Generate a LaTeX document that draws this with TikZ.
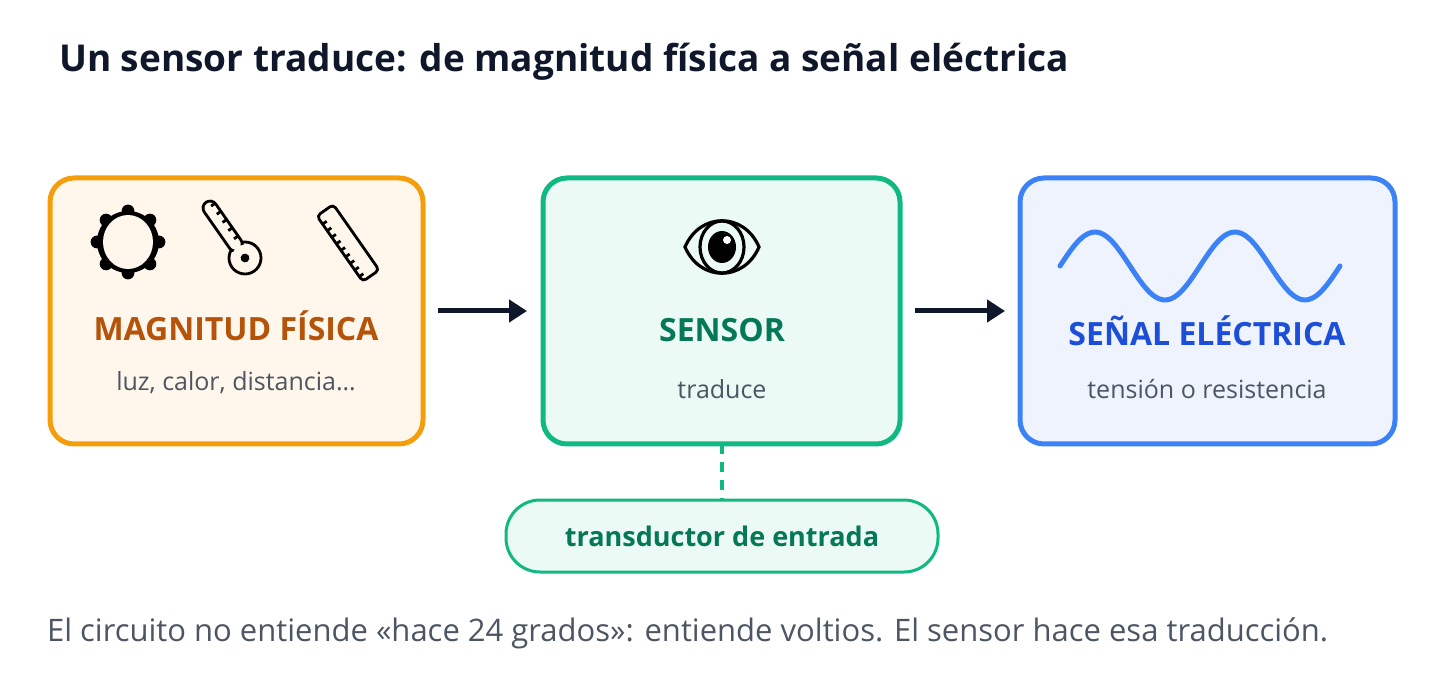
\documentclass[tikz,border=0pt]{standalone}
\usepackage{fontspec}
\setmainfont{Open Sans}
\usetikzlibrary{arrows.meta}
\definecolor{ostroke}{HTML}{F59E0B}\definecolor{ofill}{HTML}{FFF7EB}\definecolor{otext}{HTML}{B45309}
\definecolor{gstroke}{HTML}{10B981}\definecolor{gfill}{HTML}{EBFAF4}\definecolor{gtext}{HTML}{047857}
\definecolor{bstroke}{HTML}{3B82F6}\definecolor{bfill}{HTML}{EEF3FE}\definecolor{btext}{HTML}{1D4ED8}
\definecolor{gray}{HTML}{4B5563}\definecolor{dark}{HTML}{0F172A}
\begin{document}
\begin{tikzpicture}[x=0.5pt,y=-0.5pt,
  box/.style={draw=#1stroke,fill=#1fill,line width=2.5pt,rounded corners=12pt},
  big/.style={font=\fontsize{16}{20}\selectfont\bfseries},
  sub/.style={font=\fontsize{12.5}{16}\selectfont,text=gray},
  arr/.style={-{Triangle[length=9pt,width=11pt]},line width=2.5pt,draw=dark},
  ic/.style={line width=1.4pt,draw=black}]
\useasboundingbox (0,0) rectangle (1444,694);
\node[anchor=west,font=\fontsize{18.5}{23}\selectfont\bfseries,text=dark] (title) at (52,62) {Un sensor traduce: de magnitud física a señal eléctrica};
\draw[box=o] (50,178) rectangle (423,444);
\draw[box=g] (543,178) rectangle (900,444);
\draw[box=b] (1020,178) rectangle (1395,444);
\path (50,311) coordinate (Aw) (423,311) coordinate (Ae) (543,311) coordinate (Sw) (900,311) coordinate (Se) (1020,311) coordinate (Ew);
\node[big,text=otext] (t1) at (236,326) {MAGNITUD FÍSICA};
\node[sub] (s1) at (236,383) {luz, calor, distancia…};
\node[big,text=gtext] (t2) at (722,330) {SENSOR};
\node[sub] (s2) at (722,389) {traduce};
\node[big,text=btext] (t3) at (1207,331) {SEÑAL ELÉCTRICA};
\node[sub] (s3) at (1207,389) {tensión o resistencia};
\draw[arr] ([xshift=7.5pt]Ae) -- ([xshift=-8pt]Sw);
\draw[arr] ([xshift=7.5pt]Se) -- ([xshift=-7.5pt]Ew);
\node[draw=gstroke,fill=gfill,line width=1.5pt,rounded corners=17pt,minimum width=216pt,minimum height=36pt,font=\fontsize{13.5}{17}\selectfont\bfseries,text=gtext] (p) at (722,536) {transductor de entrada};
\draw[gstroke,line width=2pt,dash pattern=on 5pt off 4pt] (722,444) -- (p.north);
\node[anchor=west,font=\fontsize{15.5}{18}\selectfont,text=gray] (foot) at (40,633) {El circuito no entiende «hace 24 grados»: entiende voltios. El sensor hace esa traducción.};
% wave
\begin{scope}[shift={(1060,266)}]
\draw[bstroke,line width=2.5pt,line cap=round,line join=round] plot[domain=0:280,samples=80,smooth] (\x,{-34*cos((\x-35)*2.5714)});
\end{scope}
% sun
\fill (128,242) circle (15.5pt);
\foreach \a in {0,45,...,315} \fill (128,242) ++(\a:31) circle (3.2pt);
\fill[ofill] (128,242) ellipse (12.5pt and 13.5pt);
% thermometer
\begin{scope}[shift={(245,258)},rotate=125]
\draw[ic,fill=ofill] (0,0) circle (8pt);
\draw[ic,fill=ofill,rounded corners=3.5pt] (10,-7) rectangle (68,7);
\fill[ofill] (0,0) circle (6.6pt);
\fill (0,0) circle (2.2pt);
\foreach \t in {22,32,...,62} \draw[ic] (\t,7) -- (\t,2);
\end{scope}
% ruler
\begin{scope}[shift={(348,243)},rotate=-55]
\draw[ic,rounded corners=2pt] (-40,-10) rectangle (40,10);
\foreach \t in {-30,-22,...,34} \draw[ic] (\t,10) -- (\t,5);
\end{scope}
% eye
\draw[ic,line width=1.6pt] (685,247) .. controls (700,212) and (744,212) .. (759,247) .. controls (744,282) and (700,282) .. (685,247) -- cycle;
\draw[ic,line width=1.6pt] (722,247) ellipse (11pt and 13pt);
\fill (722,247) ellipse (7pt and 8pt);
\fill[white] (727,240) circle (2pt);
\end{tikzpicture}
\end{document}
